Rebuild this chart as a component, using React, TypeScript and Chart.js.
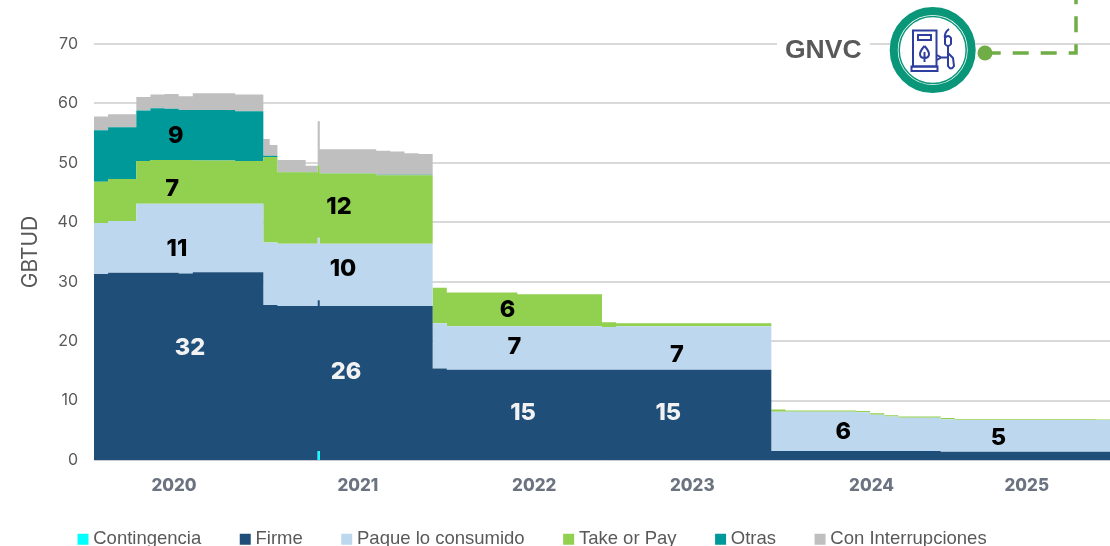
import React, { useEffect, useRef } from "react";
import { Chart, registerables } from "chart.js";

Chart.register(...registerables);

// Month index from Jan 2020 (0) to Dec 2025 end (72), with two sub-month breakpoints (12.45, 15.85)
const months = [0,1,2,3,4,5,6,7,8,9,10,11,12,12.45,13,14,15,15.85,16,17,18,19,20,21,22,23,24,25,26,27,28,29,30,31,32,33,34,35,36,37,38,39,40,41,42,43,44,45,46,47,48,49,50,51,52,53,54,55,56,57,58,59,60,61,62,63,64,65,66,67,68,69,70,71,72];

const contingencia = [0,0,0,0,0,0,0,0,0,0,0,0,0,0,0,0,0,1.5,0,0,0,0,0,0,0,0,0,0,0,0,0,0,0,0,0,0,0,0,0,0,0,0,0,0,0,0,0,0,0,0,0,0,0,0,0,0,0,0,0,0,0,0,0,0,0,0,0,0,0,0,0,0,0,0,0];
const firme = [31.3,31.5,31.5,31.5,31.5,31.5,31.4,31.6,31.6,31.6,31.6,31.6,26.1,26.1,25.9,25.9,25.9,25.4,25.9,25.9,25.9,25.9,25.9,25.9,25.9,25.9,15.4,15.2,15.2,15.2,15.2,15.2,15.2,15.2,15.2,15.2,15.2,15.2,15.2,15.2,15.2,15.2,15.2,15.2,15.2,15.2,15.2,15.2,15.2,15.2,1.5,1.5,1.5,1.5,1.5,1.5,1.5,1.5,1.5,1.5,1.5,1.5,1.4,1.4,1.4,1.4,1.4,1.4,1.4,1.4,1.4,1.4,1.4,1.4,1.4];
const pagueConsumido = [8.6,8.7,8.7,11.6,11.6,11.6,11.7,11.5,11.5,11.5,11.5,11.5,10.5,10.5,10.5,10.5,10.5,10.5,10.5,10.5,10.5,10.5,10.5,10.5,10.5,10.5,7.6,7.3,7.3,7.3,7.3,7.3,7.3,7.3,7.3,7.3,7.3,7.3,7.2,7.3,7.3,7.3,7.3,7.3,7.3,7.3,7.3,7.3,7.3,7.3,6.6,6.6,6.6,6.6,6.6,6.6,6.55,6.1,5.8,5.6,5.6,5.6,5.45,5.35,5.35,5.35,5.35,5.35,5.35,5.35,5.35,5.35,5.35,5.35,5.35];
const takeOrPay = [6.9,7.1,7.1,7.2,7.4,7.4,7.4,7.3,7.3,7.3,7.2,7.2,14.4,14.4,12,12,12,12.1,11.8,11.8,11.8,11.8,11.5,11.5,11.5,11.5,6,5.7,5.7,5.7,5.7,5.7,5.4,5.4,5.4,5.4,5.4,5.4,0.8,0.5,0.5,0.5,0.5,0.5,0.5,0.5,0.5,0.5,0.5,0.5,0.4,0.25,0.25,0.25,0.25,0.25,0.2,0.25,0.25,0.2,0.2,0.2,0.2,0.12,0.12,0.12,0.12,0.12,0.12,0.12,0.12,0.12,0.12,0.05,0.05];
const otras = [8.7,8.7,8.7,8.5,8.7,8.6,8.4,8.5,8.5,8.5,8.4,8.4,0.2,0.2,0.05,0.05,0.05,0.05,0.05,0.05,0.05,0.05,0.1,0.1,0.1,0.1,0,0,0,0,0,0,0,0,0,0,0,0,0,0,0,0,0,0,0,0,0,0,0,0,0,0,0,0,0,0,0,0,0,0,0,0,0,0,0,0,0,0,0,0,0,0,0,0,0];
const conInterrupciones = [2.3,2.2,2.2,2.3,2.3,2.5,2.3,2.8,2.8,2.8,2.8,2.8,2.8,1.8,2.05,2.05,1.05,7.45,4.05,4.05,4.05,4.05,4.05,3.9,3.6,3.5,0,0,0,0,0,0,0,0,0,0,0,0,0,0,0,0,0,0,0,0,0,0,0,0,0,0,0,0,0,0,0,0,0,0,0,0,0,0,0,0,0,0,0,0,0,0,0,0,0];

const yearLabels = ["2020", "2021", "2022", "2023", "2024", "2025"];
const yearTickMonths = [5.67, 18.7, 31.2, 42.4, 55.1, 66.1];

// Rounded values printed on the areas, at the month / stacked level where they sit
const noteTexts = ["9", "7", "11", "32", "12", "10", "26", "6", "7", "15", "7", "15", "6", "5"];
const noteMonths = [5.8, 5.53, 5.88, 6.8, 17.36, 17.65, 17.86, 29.3, 29.8, 30.4, 41.3, 40.7, 53.1, 64.1];
const noteLevels = [54.5, 45.6, 35.5, 18.8, 42.5, 32.1, 14.8, 25.2, 19.0, 8.0, 17.6, 8.0, 4.7, 3.7];
const noteOnDark = [false, false, false, true, false, false, true, false, false, true, false, true, false, false];

const NAVY = "#2E3E9E";
const TEAL = "#0A9678";
const GREEN = "#70AD47";

function pts(values: number[]) {
  return values.map((y, i) => ({ x: months[i], y }));
}

function ds(label: string, values: number[], color: string, fill: any) {
  return {
    label,
    data: pts(values),
    backgroundColor: color,
    borderColor: color,
    borderWidth: 0,
    pointRadius: 0,
    stepped: true,
    fill,
  };
}

const notesPlugin = {
  id: "notes",
  afterDatasetsDraw(chart: any) {
    const { ctx, scales } = chart;
    ctx.save();
    ctx.font = "800 23.5px Inter";
    ctx.textAlign = "center";
    ctx.textBaseline = "middle";
    noteTexts.forEach((t, i) => {
      ctx.fillStyle = noteOnDark[i] ? "#F2F2F2" : "#000000";
      ctx.fillText(t, scales.x.getPixelForValue(noteMonths[i]), scales.y.getPixelForValue(noteLevels[i]));
    });
    ctx.restore();
  },
};

const badgePlugin = {
  id: "badge",
  afterDraw(chart: any) {
    const ctx = chart.ctx;
    ctx.save();
    // break in the top gridline for the label
    ctx.fillStyle = "#ffffff";
    ctx.fillRect(777, 40, 93, 8);
    ctx.fillStyle = "#595959";
    ctx.font = "bold 26.5px 'Liberation Sans'";
    ctx.textAlign = "left";
    ctx.textBaseline = "middle";
    ctx.fillText("GNVC", 785, 51);

    // dashed connector
    ctx.strokeStyle = GREEN;
    ctx.lineWidth = 3.5;
    ctx.setLineDash([16, 12]);
    ctx.beginPath();
    ctx.moveTo(984.7, 53);
    ctx.lineTo(1076, 53);
    ctx.lineTo(1076, 0);
    ctx.stroke();
    ctx.setLineDash([]);
    ctx.fillStyle = GREEN;
    ctx.beginPath();
    ctx.arc(985, 53, 7.5, 0, Math.PI * 2);
    ctx.fill();

    // ring
    ctx.fillStyle = "#ffffff";
    ctx.beginPath();
    ctx.arc(932.7, 50, 43, 0, Math.PI * 2);
    ctx.fill();
    ctx.strokeStyle = TEAL;
    ctx.lineWidth = 8;
    ctx.beginPath();
    ctx.arc(932.7, 50, 39, 0, Math.PI * 2);
    ctx.stroke();
    ctx.lineWidth = 1.5;
    ctx.beginPath();
    ctx.arc(932.7, 50, 33.5, 0, Math.PI * 2);
    ctx.stroke();

    // pump icon
    ctx.strokeStyle = NAVY;
    ctx.lineWidth = 2;
    ctx.strokeRect(913, 30.5, 23.5, 36);
    ctx.strokeRect(918, 35, 13, 5);
    ctx.strokeRect(911.5, 66.5, 26, 4.5);
    ctx.beginPath();
    ctx.moveTo(924.5, 46);
    ctx.quadraticCurveTo(920, 51, 920, 54);
    ctx.quadraticCurveTo(920, 58, 924.5, 58);
    ctx.quadraticCurveTo(929, 58, 929, 54);
    ctx.quadraticCurveTo(929, 51, 924.5, 46);
    ctx.moveTo(924.5, 52);
    ctx.lineTo(924.5, 62);
    ctx.stroke();
    ctx.beginPath();
    ctx.moveTo(937, 55);
    ctx.lineTo(941, 57.5);
    ctx.lineTo(937, 60);
    ctx.moveTo(941, 57.5);
    ctx.lineTo(947, 57.5);
    ctx.stroke();
    ctx.beginPath();
    ctx.moveTo(949, 29);
    ctx.quadraticCurveTo(944, 33, 945, 38);
    ctx.lineTo(945, 44);
    ctx.quadraticCurveTo(948, 48, 951, 44);
    ctx.lineTo(951, 38);
    ctx.quadraticCurveTo(948, 34, 945, 38);
    ctx.moveTo(948, 46);
    ctx.lineTo(948, 53);
    ctx.lineTo(953, 58);
    ctx.lineTo(954, 66);
    ctx.quadraticCurveTo(951, 71, 948, 66);
    ctx.lineTo(948, 53);
    ctx.stroke();
    ctx.restore();
  },
};

const legendShiftPlugin = {
  id: "legendShift",
  afterLayout(chart: any) {
    chart.legend.left = 39;
    chart.legend.top = 487;
  },
};

export default function App() {
  const ref = useRef<HTMLCanvasElement>(null);

  useEffect(() => {
    document.body.style.margin = "0";
    const chart = new Chart(ref.current as HTMLCanvasElement, {
      type: "line",
      data: {
        datasets: [
          ds("Contingencia", contingencia, "#00FFFF", "origin"),
          ds("Firme", firme, "#1F4E79", "-1"),
          ds("Paque lo consumido", pagueConsumido, "#BDD7EE", "-1"),
          ds("Take or Pay", takeOrPay, "#92D050", "-1"),
          ds("Otras", otras, "#009999", "-1"),
          ds("Con Interrupciones", conInterrupciones, "#BFBFBF", "-1"),
        ],
      },
      options: {
        responsive: false,
        animation: false,
        layout: { padding: { top: 44, left: 0, right: 0, bottom: 0 } },
        plugins: {
          tooltip: { enabled: false },
          title: { display: false },
          legend: {
            position: "bottom",
            align: "start",
            maxHeight: 52,
            labels: {
              font: { family: "'Liberation Sans'", size: 18.5 },
              color: "#595959",
              padding: 43,
              boxWidth: 2,
              boxHeight: 2,
              generateLabels(c: any) {
                return c.data.datasets.map((d: any, i: number) => ({
                  text: d.label,
                  fillStyle: d.backgroundColor,
                  strokeStyle: d.backgroundColor,
                  lineWidth: 9,
                  datasetIndex: i,
                  fontColor: "#595959",
                }));
              },
            },
          },
        },
        scales: {
          x: {
            type: "linear",
            min: 0,
            max: 72,
            grid: { display: false },
            border: { color: "#C9CDD3", width: 1 },
            afterBuildTicks(scale: any) {
              scale.ticks = yearTickMonths.map((value) => ({ value }));
            },
            afterFit(scale: any) {
              scale.height = 34;
            },
            ticks: {
              autoSkip: false,
              maxRotation: 0,
              minRotation: 0,
              padding: 8,
              color: "#6B7280",
              font: { family: "Inter", size: 17, weight: "800" },
              callback(v: any) {
                return yearLabels[yearTickMonths.indexOf(v)] ?? "";
              },
            },
          },
          y: {
            stacked: true,
            min: 0,
            max: 70,
            afterFit(scale: any) {
              scale.width = 94;
            },
            grid: { color: "#D9D9D9", lineWidth: 2, drawTicks: false },
            border: { display: false },
            title: {
              display: true,
              text: "GBTUD",
              color: "#595959",
              font: { family: "Inter", size: 21, weight: "400" },
              padding: { top: 18, bottom: 0 },
            },
            ticks: {
              stepSize: 10,
              padding: 16,
              color: "#595959",
              font: { family: "Inter", size: 16 },
            },
          },
        },
      } as any,
      plugins: [notesPlugin, badgePlugin, legendShiftPlugin],
    } as any);
    return () => chart.destroy();
  }, []);

  return (
    <div style={{ position: "absolute", left: 0, top: 0, width: 1110, height: 546, overflow: "hidden", background: "#fff" }}>
      <canvas ref={ref} width={1110} height={546} style={{ display: "block" }} />
    </div>
  );
}
